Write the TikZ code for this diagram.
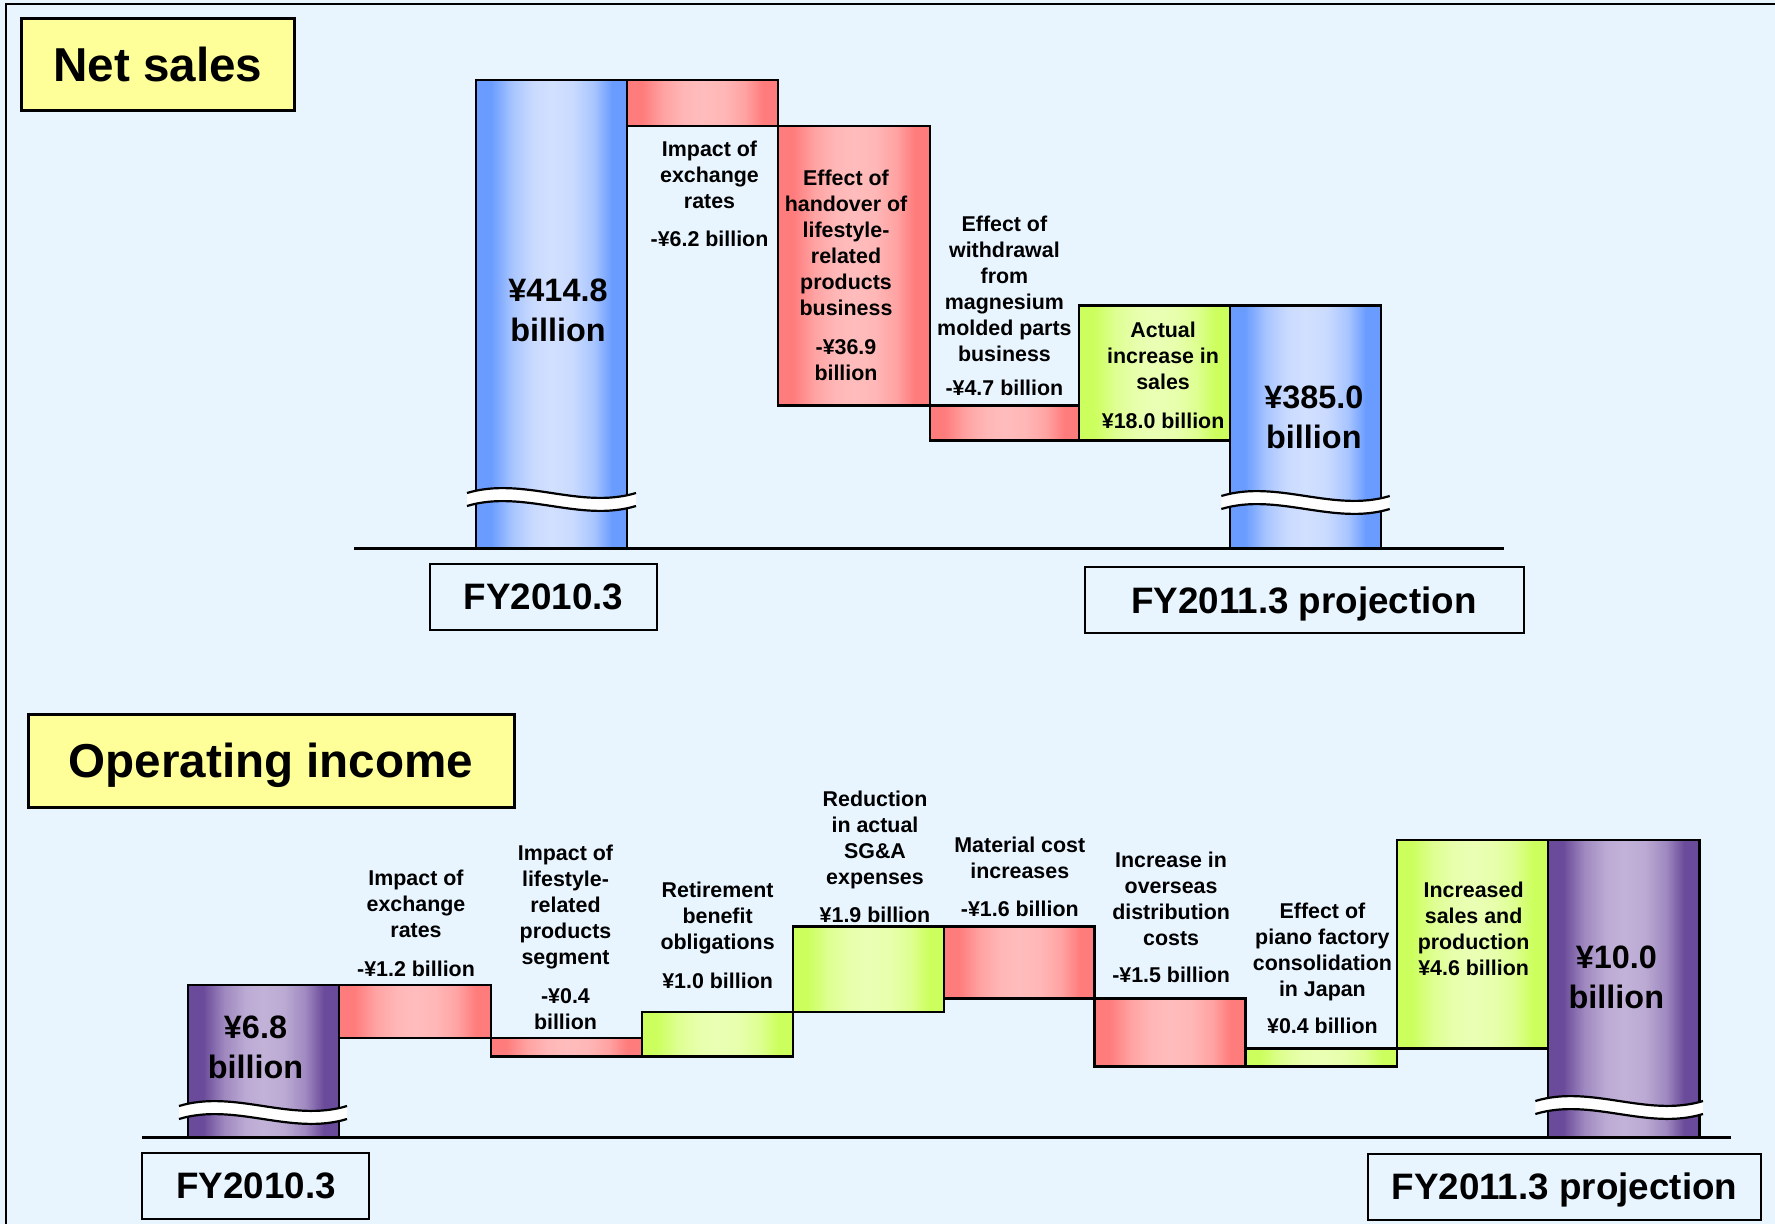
\documentclass[tikz,border=0pt]{standalone}
\usepackage{fontspec}
\setmainfont{Liberation Sans}
\definecolor{bgc}{HTML}{E8F5FF}
\definecolor{ttlc}{HTML}{FFFF99}
\definecolor{blueE}{HTML}{6A9CFF}
\definecolor{blueC}{HTML}{D2E0FF}
\definecolor{redE}{HTML}{FF7C7C}
\definecolor{redC}{HTML}{FFBCBC}
\definecolor{grnE}{HTML}{CCFF5E}
\definecolor{grnC}{HTML}{EAFFB4}
\definecolor{purE}{HTML}{6A4A9A}
\definecolor{purC}{HTML}{C2B2D8}
\colorlet{blueM}{blueC!60!blueE}\colorlet{blueL}{blueC!92!blueE}
\colorlet{redM}{redC!60!redE}\colorlet{redL}{redC!92!redE}
\colorlet{grnM}{grnC!60!grnE}\colorlet{grnL}{grnC!92!grnE}
\colorlet{purM}{purC!60!purE}\colorlet{purL}{purC!92!purE}
\pgfdeclarehorizontalshading{hblue}{100bp}{color(0bp)=(blueE); color(25bp)=(blueE); color(30bp)=(blueE); color(37bp)=(blueM); color(44bp)=(blueL); color(50bp)=(blueC); color(57bp)=(blueL); color(64bp)=(blueM); color(70bp)=(blueE); color(75bp)=(blueE); color(100bp)=(blueE)}
\pgfdeclarehorizontalshading{hred}{100bp}{color(0bp)=(redE); color(25bp)=(redE); color(30bp)=(redE); color(37bp)=(redM); color(44bp)=(redL); color(50bp)=(redC); color(57bp)=(redL); color(64bp)=(redM); color(70bp)=(redE); color(75bp)=(redE); color(100bp)=(redE)}
\pgfdeclarehorizontalshading{hgrn}{100bp}{color(0bp)=(grnE); color(25bp)=(grnE); color(30bp)=(grnE); color(37bp)=(grnM); color(44bp)=(grnL); color(50bp)=(grnC); color(57bp)=(grnL); color(64bp)=(grnM); color(70bp)=(grnE); color(75bp)=(grnE); color(100bp)=(grnE)}
\pgfdeclarehorizontalshading{hpur}{100bp}{color(0bp)=(purE); color(25bp)=(purE); color(30bp)=(purE); color(37bp)=(purM); color(44bp)=(purL); color(50bp)=(purC); color(57bp)=(purL); color(64bp)=(purM); color(70bp)=(purE); color(75bp)=(purE); color(100bp)=(purE)}
\newcommand\brkwave[3]{%
  \fill[white] (#1,#3) .. controls ({#1+(#2-#1)/3},#3-17) and ({#1+2*(#2-#1)/3},#3+17) .. (#2,#3)
    -- (#2,#3+13) .. controls ({#1+2*(#2-#1)/3},#3+30) and ({#1+(#2-#1)/3},#3-4) .. (#1,#3+13) -- cycle;
  \draw[line width=1.1pt] (#1,#3) .. controls ({#1+(#2-#1)/3},#3-17) and ({#1+2*(#2-#1)/3},#3+17) .. (#2,#3);
  \draw[line width=1.1pt] (#1,#3+13) .. controls ({#1+(#2-#1)/3},#3-4) and ({#1+2*(#2-#1)/3},#3+30) .. (#2,#3+13);
}
\tikzset{
  bar/.style={draw=black, line width=1.2pt},
  bluebar/.style={bar, shade, shading=hblue, shading angle=0},
  redbar/.style={bar, shade, shading=hred, shading angle=0},
  grnbar/.style={bar, shade, shading=hgrn, shading angle=0},
  purbar/.style={bar, shade, shading=hpur, shading angle=0},
  axisline/.style={line width=1.5pt},
  ttlbox/.style={draw=black, line width=1.5pt, fill=ttlc},
  fybox/.style={draw=black, line width=1pt, fill=bgc},
  ttltxt/.style={anchor=base, inner sep=0, font=\bfseries\fontsize{23.8}{28}\selectfont},
  fytxt/.style={anchor=base, inner sep=0, font=\bfseries\fontsize{18.4}{22}\selectfont},
  lbl/.style={align=center, inner sep=0, font=\bfseries\fontsize{10.7}{13}\selectfont},
  big/.style={align=center, inner sep=0, font=\bfseries\fontsize{16.2}{20}\selectfont},
}
\begin{document}
\begin{tikzpicture}[x=0.5pt,y=-0.5pt]
\useasboundingbox (0,0) rectangle (1775,1224);
\fill[bgc] (0,0) rectangle (1775,1224);
\draw[line width=1.3pt] (6,1224) -- (6,4) -- (1775,4);

% ---------------- Net sales ----------------
\draw[ttlbox] (21,19) rectangle (294,111);
\node[ttltxt] (nsttl) at (158,82) {Net sales};

\draw[bluebar] (476,80) rectangle (627,548);
\draw[redbar] (627,80) rectangle (778,126);
\draw[redbar] (778,126) rectangle (929.7,405.5);
\draw[redbar] (929.7,405.5) rectangle (1079.2,440.7);
\draw[grnbar] (1079.2,305.5) rectangle (1229.9,440.7);
\draw[bluebar] (1229.9,305.5) rectangle (1381.1,548);
\brkwave{467}{636}{493}
\brkwave{1221.3}{1389.7}{496}
\draw[axisline] (354,548.5) -- (1503.9,548.5);

\node[big] (nsv1) at (558,310) {¥414.8\\billion};
\node[big] (nsv2) at (1313.8,417) {¥385.0\\billion};
\node[lbl] (nsl1) at (709.5,194) {Impact of\\exchange\\rates\\[6pt]-¥6.2 billion};
\node[lbl] (nsl2) at (846,275.5) {Effect of\\handover of\\lifestyle-\\related\\products\\business\\[6.5pt]-¥36.9\\billion};
\node[lbl] (nsl3) at (1004.4,305.5) {Effect of\\withdrawal\\from\\magnesium\\molded parts\\business\\[4pt]-¥4.7 billion};
\node[lbl] (nsl4) at (1163.1,375) {Actual\\increase in\\sales\\[6.5pt]¥18.0 billion};

\draw[fybox] (430,564) rectangle (657,630);
\node[fytxt] (nsfy1) at (543.5,609.5) {FY2010.3};
\draw[fybox] (1084.9,567) rectangle (1523.8,633);
\node[fytxt] (nsfy2) at (1304,613.6) {FY2011.3 projection};

% ---------------- Operating income ----------------
\draw[ttlbox] (28,714) rectangle (514,807);
\node[ttltxt] (oittl) at (271,777) {Operating income};

\draw[purbar] (188,984.8) rectangle (339,1137.8);
\draw[redbar] (339,984.8) rectangle (491,1038.2);
\draw[redbar] (491,1038.2) rectangle (641.8,1056.6);
\draw[grnbar] (641.8,1011.8) rectangle (792.8,1056.6);
\draw[grnbar] (792.8,926.3) rectangle (943.9,1011.8);
\draw[redbar] (943.9,926.3) rectangle (1094.6,998.5);
\draw[redbar] (1094.6,998.5) rectangle (1245.3,1066.6);
\draw[grnbar] (1245.3,1048.6) rectangle (1397.1,1066.6);
\draw[grnbar] (1397.1,839.7) rectangle (1547.8,1048.6);
\draw[purbar] (1547.8,839.7) rectangle (1699.6,1137.8);
\brkwave{179}{347}{1106}
\brkwave{1535.3}{1703}{1101}
\draw[axisline] (142,1137.8) -- (1730.5,1137.8);

\node[big] (oiv1) at (255.5,1047.5) {¥6.8\\billion};
\node[big] (oiv2) at (1616.3,977) {¥10.0\\billion};
\node[lbl] (oil1) at (416,923) {Impact of\\exchange\\rates\\[6.5pt]-¥1.2 billion};
\node[lbl] (oil2) at (565.5,937.6) {Impact of\\lifestyle-\\related\\products\\segment\\[6.5pt]-¥0.4\\billion};
\node[lbl] (oil3) at (717.6,935.6) {Retirement\\benefit\\obligations\\[6.5pt]¥1.0 billion};
\node[lbl] (oil4) at (875,856.8) {Reduction\\in actual\\SG\&A\\expenses\\[6pt]¥1.9 billion};
\node[lbl] (oil5) at (1019.8,876.6) {Material cost\\increases\\[6pt]-¥1.6 billion};
\node[lbl] (oil6) at (1171.1,917.5) {Increase in\\overseas\\distribution\\costs\\[5.5pt]-¥1.5 billion};
\node[lbl] (oil7) at (1322.4,967.9) {Effect of\\piano factory\\consolidation\\in Japan\\[5.5pt]¥0.4 billion};
\node[lbl] (oil8) at (1473.6,928.6) {Increased\\sales and\\production\\¥4.6 billion};

\draw[fybox] (142.4,1152.9) rectangle (369,1219);
\node[fytxt] (oify1) at (256,1198.7) {FY2010.3};
\draw[fybox] (1368,1153.5) rectangle (1760.7,1219.7);
\node[fytxt] (oify2) at (1564.4,1199.7) {FY2011.3 projection};
\end{tikzpicture}
\end{document}
